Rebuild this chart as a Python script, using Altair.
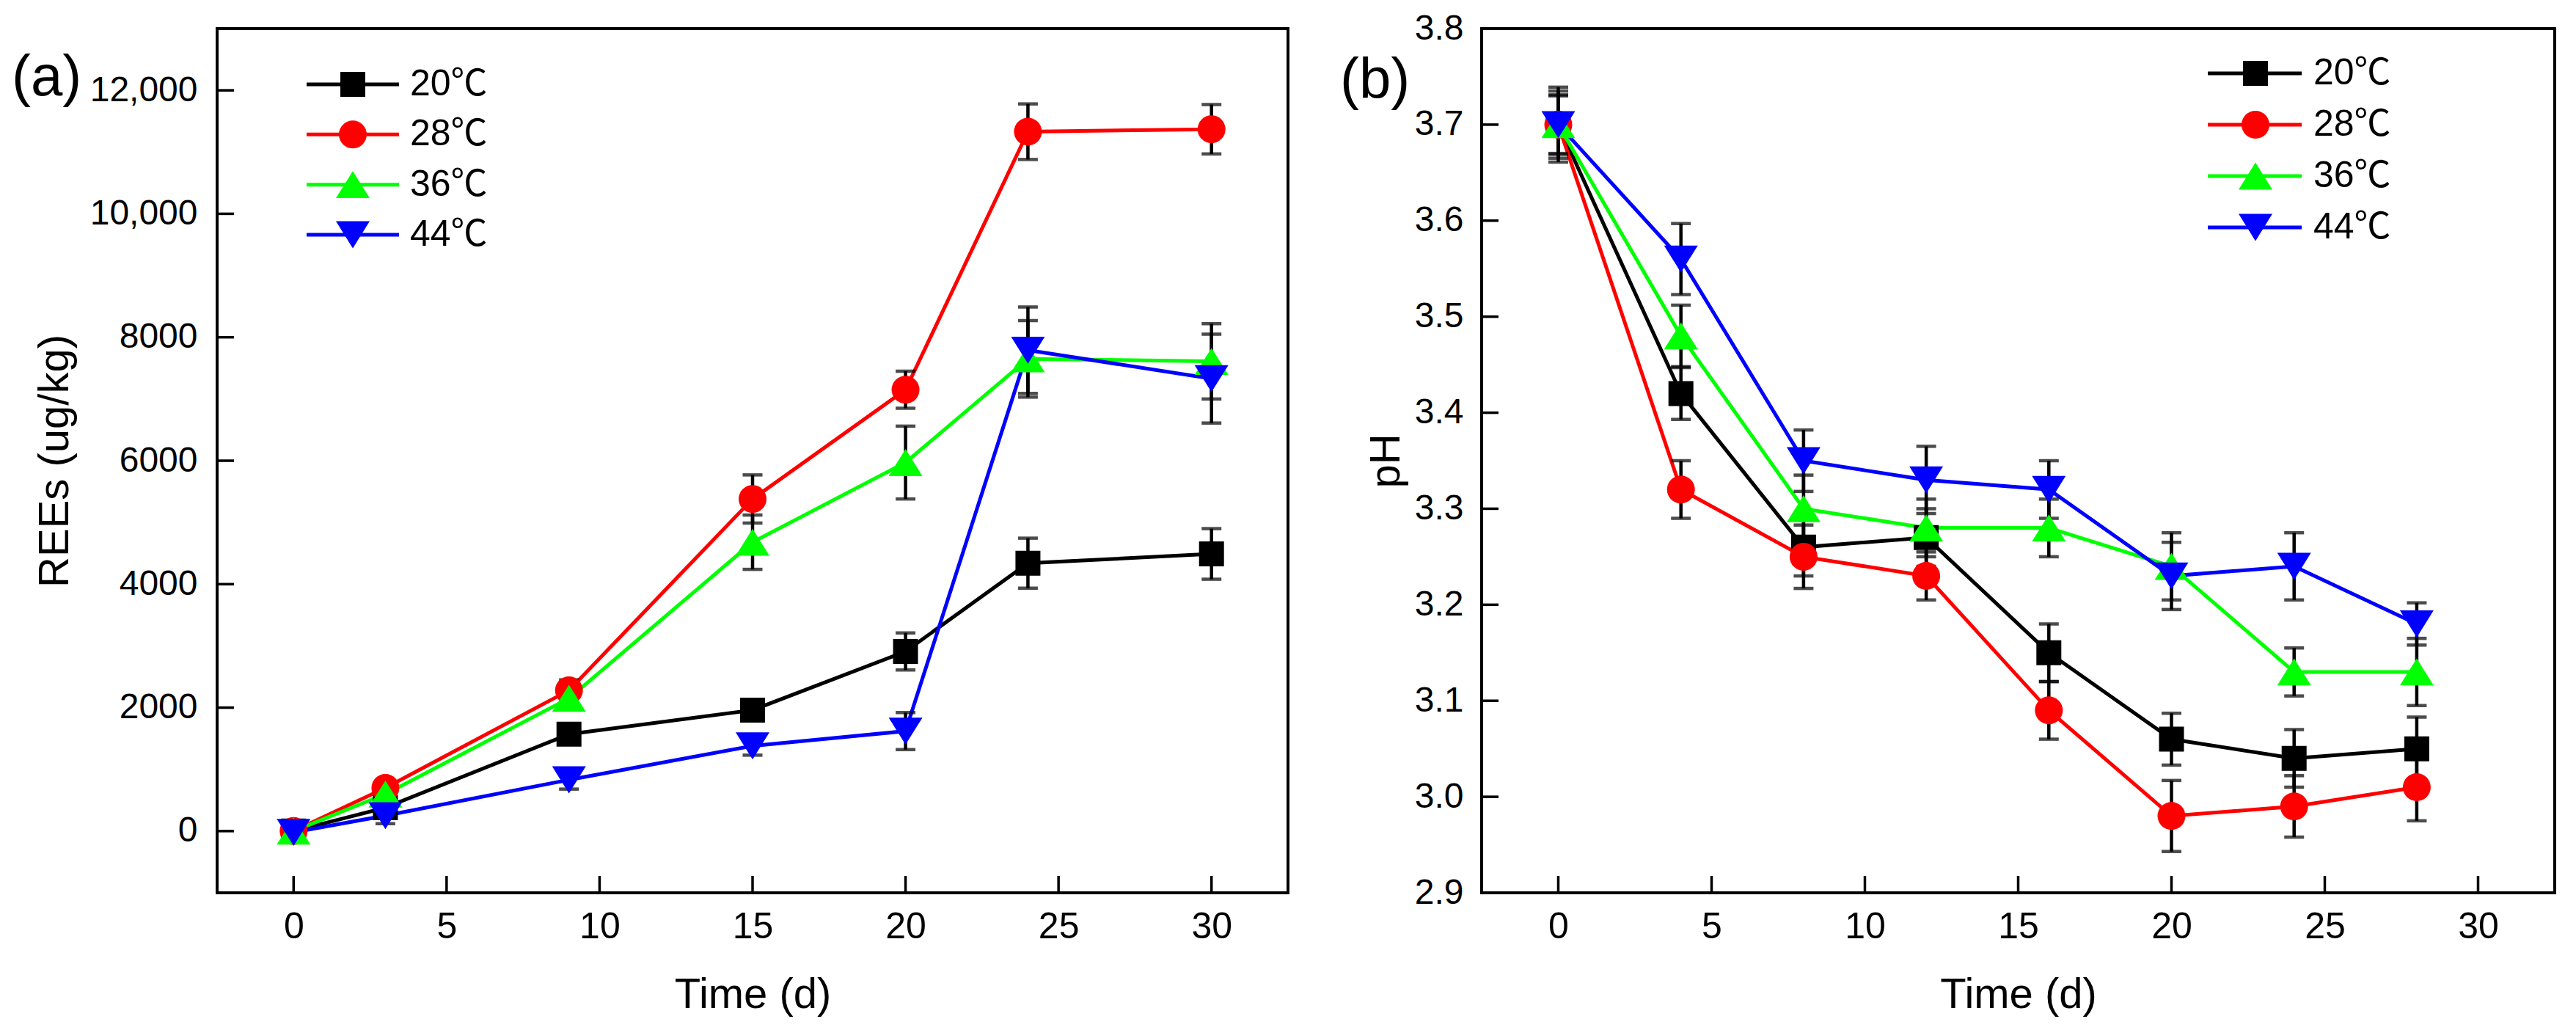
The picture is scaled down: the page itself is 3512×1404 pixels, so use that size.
import altair as alt
import pandas as pd

# ---------------- data ----------------
series = ["20℃", "28℃", "36℃", "44℃"]
colors = ["#000000", "#FF0000", "#00FF00", "#0000FF"]

# panel (a): REEs (ug/kg)
time_a = [0, 3, 9, 15, 20, 24, 30]
rees_20 = [0, 380, 1570, 1960, 2910, 4340, 4490]
rees_20_err = [60, 120, 130, 150, 300, 405, 410]
rees_28 = [0, 700, 2280, 5380, 7150, 11330, 11370]
rees_28_err = [60, 130, 170, 390, 300, 450, 400]
rees_36 = [0, 600, 2150, 4680, 5970, 7650, 7610]
rees_36_err = [60, 130, 150, 440, 590, 620, 610]
rees_44 = [-20, 250, 830, 1380, 1620, 7790, 7330]
rees_44_err = [60, 130, 150, 150, 300, 700, 720]

# panel (b): pH
time_b = [0, 4, 8, 12, 16, 20, 24, 28]
ph_20 = [3.70, 3.42, 3.26, 3.27, 3.15, 3.06, 3.04, 3.05]
ph_20_err = [0.035, 0.027, 0.030, 0.030, 0.030, 0.027, 0.030, 0.033]
ph_28 = [3.70, 3.32, 3.25, 3.23, 3.09, 2.98, 2.99, 3.01]
ph_28_err = [0.031, 0.030, 0.033, 0.025, 0.030, 0.037, 0.032, 0.035]
ph_36 = [3.70, 3.48, 3.30, 3.28, 3.28, 3.24, 3.13, 3.13]
ph_36_err = [0.030, 0.032, 0.035, 0.030, 0.030, 0.035, 0.025, 0.035]
ph_44 = [3.70, 3.56, 3.35, 3.33, 3.32, 3.23, 3.24, 3.18]
ph_44_err = [0.039, 0.037, 0.032, 0.035, 0.030, 0.035, 0.035, 0.022]

x_ticks = [0, 5, 10, 15, 20, 25, 30]
y_ticks_a = [0, 2000, 4000, 6000, 8000, 10000, 12000]
y_ticks_b = [2.9, 3.0, 3.1, 3.2, 3.3, 3.4, 3.5, 3.6, 3.7, 3.8]

FONT = "Liberation Sans, Arial, Noto Sans CJK SC"
TRI_UP = "M0,-0.8L1,0.8L-1,0.8Z"
TRI_DOWN = "M0,0.8L1,-0.8L-1,-0.8Z"
shapes = ["square", "circle", TRI_UP, TRI_DOWN]
sizes = [1156, 1444, 2116, 2116]


def long_df(times, vals, errs):
    rows = []
    for s, v, e in zip(series, vals, errs):
        for t, vv, ee in zip(times, v, e):
            rows.append({"series": s, "t": t, "v": vv, "lo": vv - ee, "hi": vv + ee})
    return pd.DataFrame(rows)


df_a = long_df(time_a, [rees_20, rees_28, rees_36, rees_44],
               [rees_20_err, rees_28_err, rees_36_err, rees_44_err])
df_b = long_df(time_b, [ph_20, ph_28, ph_36, ph_44],
               [ph_20_err, ph_28_err, ph_36_err, ph_44_err])
leg_df = pd.DataFrame({"series": series, "row": [0, 1, 2, 3], "label": series})

color_enc = alt.Color("series:N", scale=alt.Scale(domain=series, range=colors), legend=None)


def panel(df, W, H, xs, ys, xaxis, yaxis, y_ticks, tag, tag_x, tag_y,
          leg_y0, leg_y3, leg_x0, leg_x1, leg_sym, leg_tx):
    X = alt.X("t:Q", scale=xs, axis=xaxis)
    Y = alt.Y("v:Q", scale=ys, axis=yaxis)
    base = alt.Chart(df)
    lines = base.mark_line(strokeWidth=5).encode(
        x=X, y=Y, color=color_enc, detail="series:N", order="t:Q")
    stems = base.mark_rule(color="black", strokeWidth=4.5).encode(
        x=X, y=alt.Y("lo:Q", scale=ys, axis=yaxis), y2="hi:Q")
    cap_hi = base.mark_tick(orient="horizontal", size=27, thickness=4.5, color="black").encode(
        x=X, y=alt.Y("hi:Q", scale=ys, axis=yaxis))
    cap_lo = base.mark_tick(orient="horizontal", size=27, thickness=4.5, color="black").encode(
        x=X, y=alt.Y("lo:Q", scale=ys, axis=yaxis))
    pts = []
    for s, c, sh, sz in zip(series, colors, shapes, sizes):
        pts.append(base.transform_filter(alt.datum.series == s).mark_point(
            shape=sh, size=sz, filled=True, opacity=1, color=c, strokeWidth=0).encode(x=X, y=Y))
    xt = alt.Chart(pd.DataFrame({"t": x_ticks})).mark_rule(color="black", strokeWidth=3.5).encode(
        x=X, y=alt.value(H), y2=alt.value(H - 23))
    yt = alt.Chart(pd.DataFrame({"v": y_ticks})).mark_rule(color="black", strokeWidth=3.5).encode(
        y=Y, x=alt.value(0), x2=alt.value(23))
    label = alt.Chart(pd.DataFrame({"lab": [tag]})).mark_text(
        align="left", baseline="alphabetic", fontSize=78, font=FONT, color="black").encode(
        text="lab:N", x=alt.value(tag_x), y=alt.value(tag_y))
    main = alt.layer(lines, stems, cap_hi, cap_lo, *pts, xt, yt, label)

    LY = alt.Y("row:Q", scale=alt.Scale(domain=[0, 3], range=[leg_y0, leg_y3], nice=False, zero=False), axis=None)
    lbase = alt.Chart(leg_df)
    lrules = lbase.mark_rule(strokeWidth=5).encode(
        x=alt.value(leg_x0), x2=alt.value(leg_x1), y=LY, color=color_enc)
    lpts = []
    for s, c, sh, sz in zip(series, colors, shapes, sizes):
        lpts.append(lbase.transform_filter(alt.datum.series == s).mark_point(
            shape=sh, size=sz, filled=True, opacity=1, color=c, strokeWidth=0).encode(
            x=alt.value(leg_sym), y=LY))
    ltext = lbase.mark_text(align="left", baseline="middle", fontSize=50, font=FONT, color="black").encode(
        x=alt.value(leg_tx), y=LY, text="label:N")
    legend = alt.layer(lrules, *lpts, ltext)
    return alt.layer(main, legend).resolve_scale(y="independent").properties(width=W, height=H)


common_x = dict(values=x_ticks, format="d", tickSize=0, domain=False, grid=False,
                labelFontSize=50, labelPadding=21, titleFontSize=58, titleBaseline="alphabetic",
                titleY=156, title="Time (d)", titleFontWeight="normal",
                labelFont=FONT, titleFont=FONT, labelColor="black", titleColor="black")

xs = alt.Scale(domain=[-2.5, 32.5], nice=False, zero=False)

W, H = 1460, 1178
left = panel(
    df_a, W, H, xs,
    alt.Scale(domain=[-1000, 13000], nice=False, zero=False),
    alt.Axis(**common_x),
    alt.Axis(values=y_ticks_a, tickSize=0, domain=False, grid=False, labelFontSize=48,
             labelPadding=27, titleFontSize=58, title="REEs (ug/kg)", titleBaseline="alphabetic",
             titleX=-204, titleFontWeight="normal",
             labelFont=FONT, titleFont=FONT, labelColor="black", titleColor="black",
             labelExpr="datum.value >= 10000 ? format(datum.value, ',') : format(datum.value, 'd')"),
    y_ticks_a, "(a)", -280, 91,
    76, 281, 122, 248, 185, 263)

right = panel(
    df_b, 1463, H, xs,
    alt.Scale(domain=[2.9, 3.8], nice=False, zero=False),
    alt.Axis(**common_x),
    alt.Axis(values=y_ticks_b, format=".1f", tickSize=0, domain=False, grid=False, labelFontSize=48,
             labelPadding=25, titleFontSize=58, title="pH", titleBaseline="alphabetic", titleX=-113,
             titleFontWeight="normal",
             labelFont=FONT, titleFont=FONT, labelColor="black", titleColor="black"),
    y_ticks_b, "(b)", -193, 95,
    61, 271, 990, 1118, 1055, 1134)

chart = alt.hconcat(left, right, spacing=264, bounds="flush").properties(
    padding={"left": 6, "top": 5, "right": 5, "bottom": 5},
    background="white"
).configure_view(stroke="#000000", strokeWidth=4).configure_axis(
    labelFont=FONT, titleFont=FONT, labelColor="black", titleColor="black",
    titleFontWeight="normal"
)

chart.save("out.html", embed_options={"renderer": "svg", "actions": False})
